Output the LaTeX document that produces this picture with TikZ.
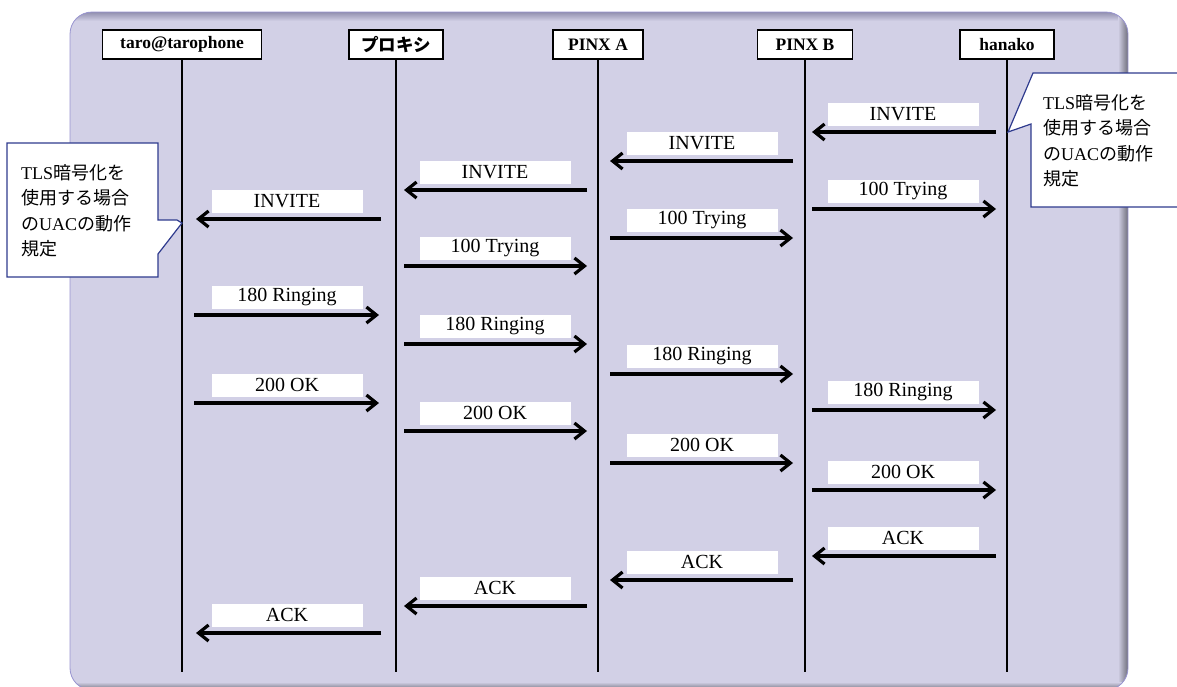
\documentclass[tikz,border=0pt]{standalone}
\usepackage{fontspec}
\setmainfont{Liberation Serif}
\newfontfamily\jp{Noto Sans CJK JP}
\usetikzlibrary{arrows.meta}
\definecolor{bg}{HTML}{D2D0E6}
\definecolor{bgdark}{HTML}{8A88A8}
\definecolor{edgegray}{HTML}{6E6E7A}
\definecolor{callblue}{HTML}{2F3B8E}
\definecolor{rimblue}{HTML}{9894D0}
\begin{document}
\begin{tikzpicture}[x=1pt,y=-1pt,
 hdr/.style={draw=black,line width=1.5pt,fill=white,font=\fontsize{17.5}{19}\selectfont\bfseries,inner sep=0pt,minimum height=29pt},
 life/.style={line width=2.4pt},
 lbl/.style={fill=white,minimum width=151pt,minimum height=23pt,inner sep=0pt,font=\fontsize{20}{22}\selectfont},
 msg/.style={line width=3.4pt,-{Straight Barb[length=10pt,width=16pt,line width=3.2pt]}},
 callbox/.style={draw=callblue,line width=1.2pt,fill=white,line join=miter},
 ctext/.style={align=left,font=\fontsize{18}{25.5}\selectfont,inner sep=0pt,anchor=north west}]
\useasboundingbox (0,0) rectangle (1177,686);
\clip (0,0) rectangle (1177,686);
% background panel
\fill[bg,rounded corners=22pt] (70,12) rectangle (1128,690);
\begin{scope}
\clip[rounded corners=22pt] (70,12) rectangle (1128,690);
\shade[top color=bgdark,bottom color=bg] (60,11) rectangle (1140,21);
\shade[left color=bg,right color=edgegray] (1118,10) rectangle (1128,700);
\shade[top color=bg,bottom color=edgegray] (60,682) rectangle (1140,690);
\end{scope}
\draw[rimblue,line width=0.8pt,rounded corners=22pt] (70,12) rectangle (1128,690);
% headers
\node[hdr,minimum width=159pt] (h1) at (182,44.5) {taro@tarophone};
\node[hdr,minimum width=94pt] (h2) at (396,44.5) {{\jp\bfseries プロキシ}};
\node[hdr,minimum width=90pt] (h3) at (598,44.5) {PINX A};
\node[hdr,minimum width=95pt] (h4) at (805,44.5) {PINX B};
\node[hdr,minimum width=94pt] (h5) at (1007,44.5) {hanako};
\coordinate (e1) at (182,672);
\coordinate (e2) at (396,672);
\coordinate (e3) at (598,672);
\coordinate (e4) at (805,672);
\coordinate (e5) at (1007,672);
\foreach \i in {1,...,5} \draw[life] (h\i) -- (e\i);
% messages
\node[lbl] (m1) at (903,114) {INVITE};
\draw[msg] (996,132) -- (812,132);
\node[lbl] (m2) at (702,143) {INVITE};
\draw[msg] (793,161) -- (610,161);
\node[lbl] (m3) at (495,172) {INVITE};
\draw[msg] (587,190) -- (404,190);
\node[lbl] (m4) at (287,201) {INVITE};
\draw[msg] (381,219) -- (196,219);
\node[lbl] (m5) at (903,191) {100 Trying};
\draw[msg] (812,209) -- (996,209);
\node[lbl] (m6) at (702,220) {100 Trying};
\draw[msg] (610,238) -- (793,238);
\node[lbl] (m7) at (495,248) {100 Trying};
\draw[msg] (404,266) -- (587,266);
\node[lbl] (m8) at (287,297) {180 Ringing};
\draw[msg] (194,315) -- (379,315);
\node[lbl] (m9) at (495,326) {180 Ringing};
\draw[msg] (404,344) -- (587,344);
\node[lbl] (m10) at (702,356) {180 Ringing};
\draw[msg] (610,374) -- (793,374);
\node[lbl] (m11) at (903,392) {180 Ringing};
\draw[msg] (812,410) -- (996,410);
\node[lbl] (m12) at (287,385) {200 OK};
\draw[msg] (194,403) -- (379,403);
\node[lbl] (m13) at (495,413) {200 OK};
\draw[msg] (404,431) -- (587,431);
\node[lbl] (m14) at (702,445) {200 OK};
\draw[msg] (610,463) -- (793,463);
\node[lbl] (m15) at (903,472) {200 OK};
\draw[msg] (812,490) -- (996,490);
\node[lbl] (m16) at (903,538) {ACK};
\draw[msg] (996,556) -- (812,556);
\node[lbl] (m17) at (702,562) {ACK};
\draw[msg] (793,580) -- (610,580);
\node[lbl] (m18) at (495,588) {ACK};
\draw[msg] (587,606) -- (404,606);
\node[lbl] (m19) at (287,615) {ACK};
\draw[msg] (381,633) -- (196,633);
% callouts
\draw[callbox] (7,143) -- (158,143) -- (158,220) -- (177,220) -- (182,223) -- (158,254) -- (158,277) -- (7,277) -- cycle;
\node[ctext] (c1) at (21,164) {TLS{\jp 暗号化を}\\{\jp 使用する場合}\\{\jp の}UAC{\jp の動作}\\{\jp 規定}};
\draw[callbox] (1033,73) -- (1195,73) -- (1195,207) -- (1031,207) -- (1031,124) -- (1008,132) -- cycle;
\node[ctext] (c2) at (1043,94) {TLS{\jp 暗号化を}\\{\jp 使用する場合}\\{\jp の}UAC{\jp の動作}\\{\jp 規定}};
\end{tikzpicture}
\end{document}
